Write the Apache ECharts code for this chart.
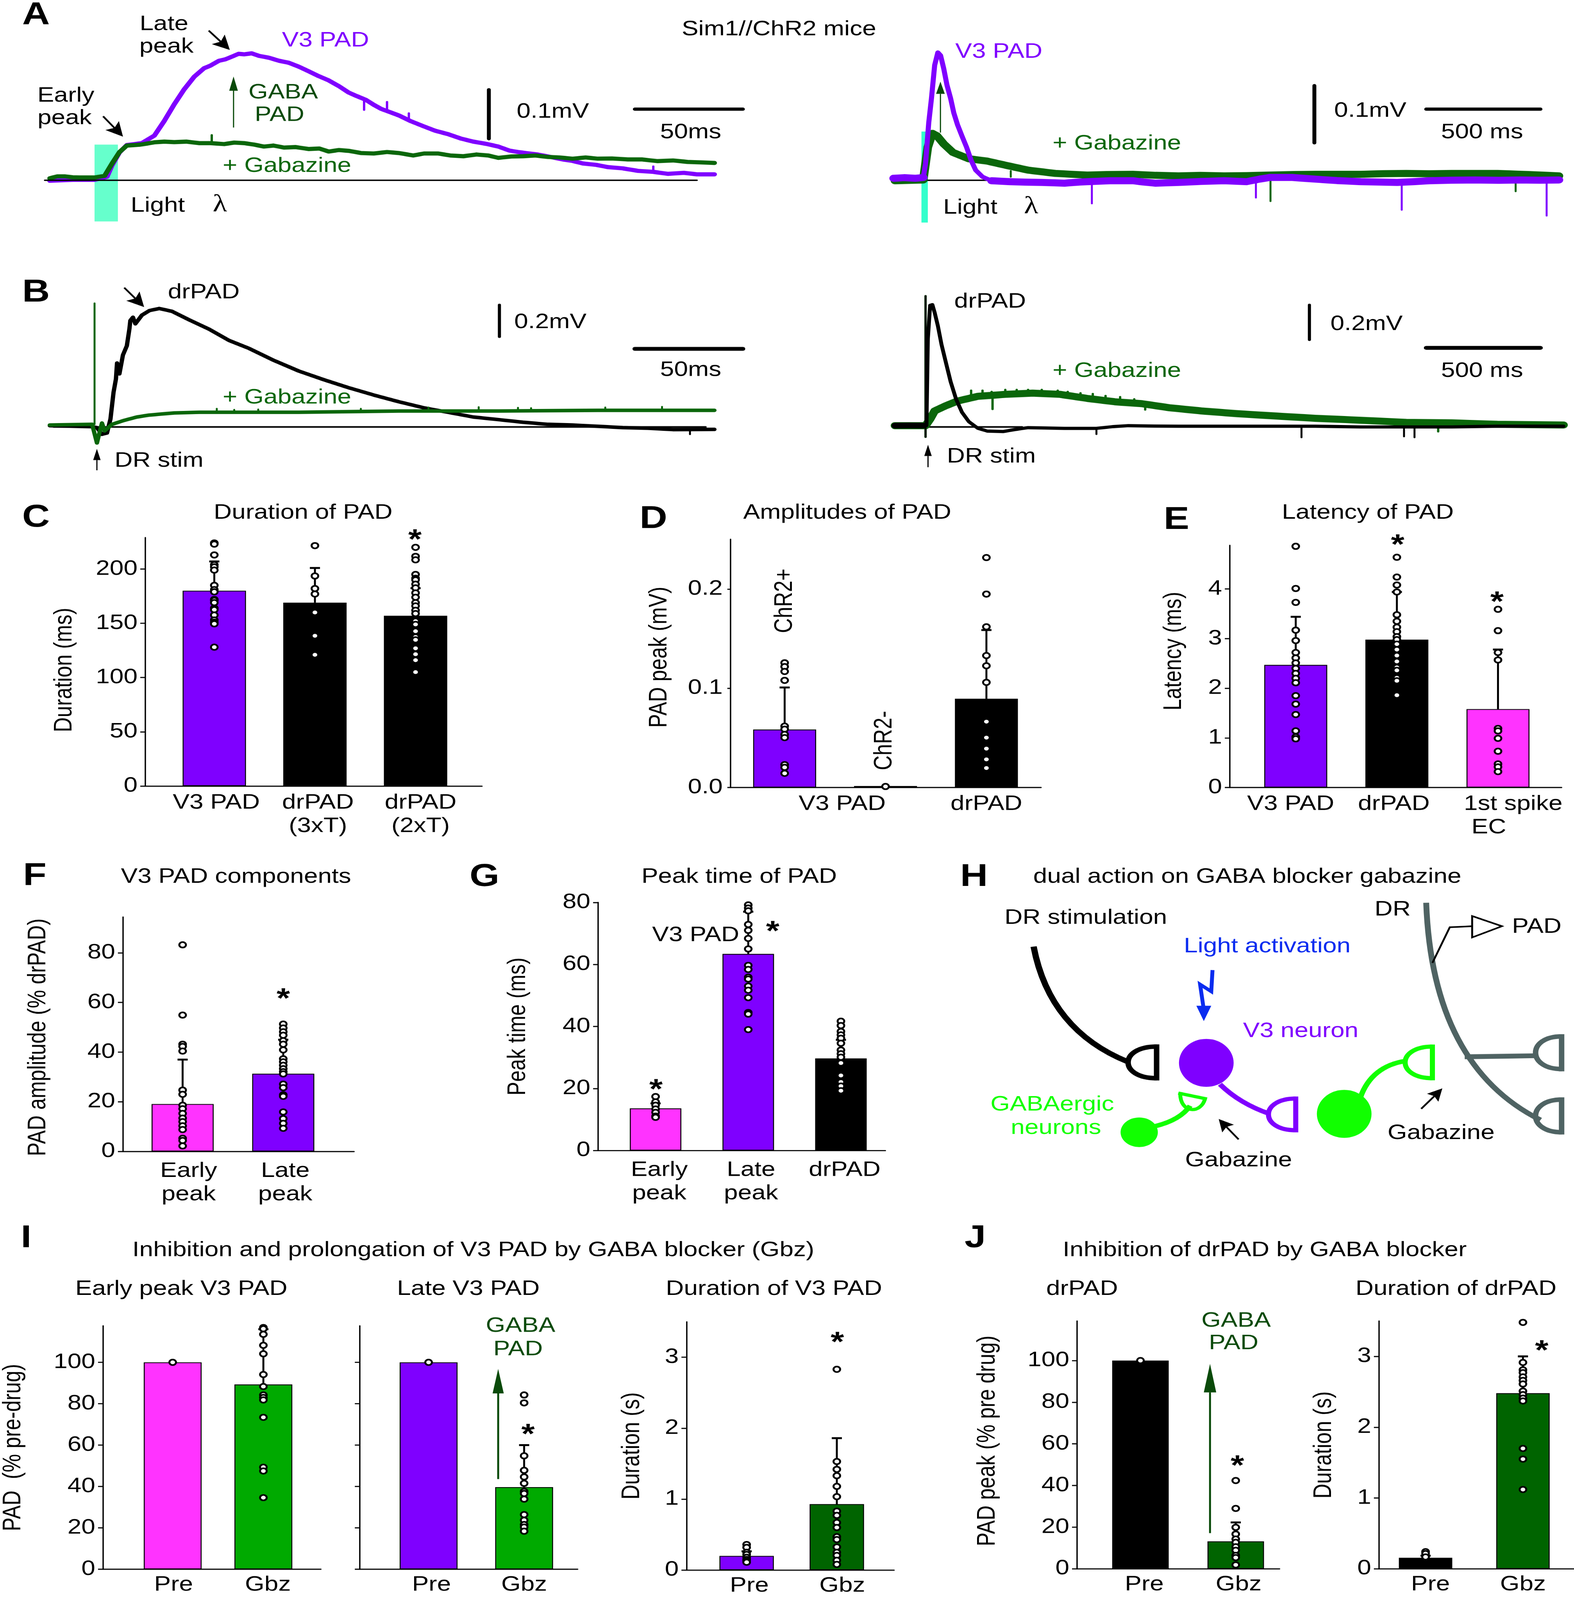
<!DOCTYPE html>
<html><head><meta charset="utf-8">
<style>html,body{margin:0;padding:0;background:#fff;overflow:hidden}#c{width:4029px;height:4988px;transform-origin:0 0}</style>
<script src="https://cdn.jsdelivr.net/npm/echarts@6/dist/echarts.min.js"></script>
</head><body><div id="c"></div>
<script>
// ---------- trace data: [time ms, potential uV] ----------
const aLeftV3=[[-20.5,-1],[-10,1],[0,1],[5.7,7],[8,30],[11.4,56],[14.8,71],[21.7,75],[27.4,90],[32,120],[36.5,153],[41,183],[45.7,209],[50.2,226],[53,231],[57,241],[60,244],[62.8,249],[66,255],[68.5,254],[72,256],[75.3,251],[80,247],[84.5,241],[89,237],[93.6,229],[98,220],[102.7,210],[107,202],[111.9,190],[116.4,177],[120,170],[124.4,162],[128,152],[131.3,144],[135,138],[139.3,131],[145,119],[150.7,109],[156,100],[162,93],[168,84],[173.5,78],[180,73],[185,68],[190,60],[194,57],[203,52],[209,47],[214.6,42],[219,39],[223.7,34],[230,31],[235,26.7],[242,24],[249,19],[256,17],[262.6,13],[270,15],[276,12],[284,12]];
const aLeftGbz=[[-20.5,4],[-17,8],[-13.7,8],[-10,6],[-6.8,5.6],[0,5.6],[4.6,9],[8,33.7],[11.4,56.8],[14.8,70],[20.5,71.6],[24,74],[27.4,76.6],[32,78],[36.5,77],[42,78],[48,74.9],[53.2,74.9],[59.4,73],[64,76],[68.5,74.9],[73,72],[77.6,68],[82,70],[86.8,66],[92,67],[98.2,63],[103,64],[107.3,58],[112,61],[116.4,59.4],[122,55],[127.9,54],[134,57],[139.3,55],[146,50],[151,54],[157.5,54],[163,50],[169,48.5],[175,52],[180.4,50],[185,45.2],[191,48],[196.3,48.5],[202,50],[207.8,47],[213,46],[219,43.6],[225,46],[230.6,43.6],[237,44],[244.3,42],[251,42],[258,38.6],[265,40],[271.7,37],[278,36],[284,35]];
const aLeftGbzSpikes=[[53.7,75,91]];
const aLeftV3Spikes=[[123.5,160,142],[134,140,158],[144,120,135],[256,17,28]];
const aLeftBase=[[-22.8,0],[276,0]];
const aLeftLight=[[0,10.7,-83,72]];

const aRightV3Peak=[[-136,3.4],[-70,4],[-6,4.8],[4,28.7],[18,99],[30,141],[44,198],[58,220],[70,215],[84,192],[98,164],[114,141],[128,116],[144,96],[164,76],[184,57],[204,34.4],[224,17.5],[254,6],[294,-0.8]];
const aRightV3Flat=[[-136,3.4],[-90,4.5],[-40,3.5],[-6,4.8]];
const aRightV3Tail=[[294,-0.8],[374,-2.3],[440,-3.2],[514,-3.7],[570,-4.4],[614,-5],[680,-3],[714,-2.3],[814,-0.8],[914,-0.8],[960,-3],[1014,-5],[1114,-3.7],[1210,-2],[1314,-0.8],[1414,-2.3],[1470,2],[1514,4.8],[1614,4.8],[1714,2],[1810,-0.5],[1914,-2.3],[2074,-3.7],[2140,-2.5],[2214,-0.8],[2310,0.2],[2414,0.6],[2520,0],[2614,0.6],[2700,0.2],[2784,0.6]];
const aRightGbz=[[-130,-0.8],[-6,0.6],[14,57],[34,80.8],[54,76.6],[84,62.5],[124,48],[194,37],[274,33],[354,26],[454,17.5],[574,11.8],[714,9],[800,10],[914,10.4],[1014,8.5],[1114,7.6],[1210,8.4],[1314,7.6],[1414,8],[1514,9],[1620,10],[1714,10.4],[1914,10.4],[2014,11.3],[2114,11.8],[2214,11.2],[2314,11.8],[2514,11.8],[2650,10],[2784,7.6]];
const aRightV3Spikes=[[734,-5,-40],[1454,-2,-30],[2094,-4,-51],[2730,0,-61]];
const aRightGbzSpikes=[[378,16,6],[1518,5,-36],[2594,5,-19]];
const aRightBase=[[0,0],[274,0]];
const aRightLight=[[-14,14,-72.7,84]];

const bLeftDr=[[-20.5,8],[-1.1,1.6],[1.1,-4],[3.4,-45],[5.7,-37],[7.3,49],[8.7,212],[9.8,294],[10.3,392],[11.4,326],[13,441],[14.8,498],[16,604],[16.4,653],[17.6,673],[18.7,633],[21.7,686],[25.1,714],[29.7,727],[35.4,710],[43.4,657],[52.5,600],[61.6,531],[70.8,482],[82.2,408],[93.6,343],[105,290],[116.4,241],[127.9,196],[139.3,155],[150.7,118],[162,90],[173.5,61],[185,45],[196.3,29],[207.8,16],[219,12],[230.6,4],[242,-4],[253.4,-8],[265,-16],[284,-15]];
const bLeftGbz=[[-20.5,12],[-1.1,16],[1.1,-98],[2.3,-33],[3.4,24],[4.6,-24],[8,16],[13.7,41],[19.4,61],[25.1,73],[36.5,86],[48,90],[70.8,90],[93.6,90],[116.4,94],[139.3,98],[162,98],[185,98],[207.8,100],[230.6,102],[253.4,102],[284,102]];
const bLeftDrSpikes=[[272.8,-15,-45]];
const bLeftGbzSpikes=[[0,16,759],[56,90,112],[64,90,106],[75,90,108],[122,94,112],[153,98,120],[176,98,122],[194,98,118],[200,100,116],[234,102,120],[260,102,124]];
const bLeftBase=[[-18.7,0],[280,0]];

const bRightDr=[[-138,7.5],[-14,7.5],[0,7.5],[6,498],[16,690],[26,694],[36,649],[50,574],[66,468],[86,362],[106,257],[130,158],[156,83],[186,30],[226,-8],[266,-23],[336,-26],[386,-15],[446,-4],[520,-6],[606,-8],[746,-8],[820,2],[886,7.5],[1000,5],[1106,4],[1306,4],[1506,4],[1706,4],[1906,0],[2106,0],[2306,0],[2506,4],[2796,4]];
const bRightDrBand=[[-138,7.5],[-80,8],[-14,7.5]];
const bRightGbz=[[-138,7.5],[-4,7.5],[16,45],[36,91],[86,121],[136,147],[226,174],[346,185],[466,192],[586,185],[706,162],[826,143],[946,132],[1066,109],[1206,91],[1366,75],[1506,64],[1706,49],[1906,38],[2106,26],[2306,23],[2506,15],[2796,11]];
const bRightDrSpikes=[[-4,-57,743],[746,-8,-41],[1646,0,-59],[2096,0,-54],[2142,0,-59]];
const bRightGbzSpikes=[[-4,-57,743],[196,170,207],[246,170,207],[286,180,200],[346,190,211],[396,190,211],[446,190,211],[506,190,211],[576,190,207],[620,180,200],[676,170,192],[730,160,188],[786,150,177],[850,140,170],[912,135,158],[290,170,101],[960,130,98],[2246,20,-26]];
const bRightBase=[[0,0],[420,0]];

// ---------- bar panels ----------
const cLabels=['V3 PAD','drPAD\n(3xT)','drPAD\n(2xT)'];
const cMeans=[180,169,157], cErr=[207,201,182.4];
const cPts=[[224,223,213,204,202,199,185,181,179,172,171,169,164,162.5,157.6,153,151,149.5,128],
 [221.6,193.6,182,177,160,138.5,121],
 [220,211.7,208.5,195,191.5,190,186,182.6,178,174,169,166,162,159,152,149,142.7,137.4,134.7,127,121.5,116,105]];
const dLabels=['V3 PAD','drPAD'];
const dMeans=[0.0584,0.0015,0.0895], dErr=[0.1008,0.0015,0.1587];
const dPts=[[.1257,.1218,.117,.108,.0618,.0588,.0535,.0503,.023,.0203,.0143],[.001],[.2318,.195,.162,.133,.1227,.106,.0664,.0503,.0392,.0284,.0196]];
const eLabels=['V3 PAD','drPAD','1st spike\nEC       '];
const eMeans=[2.47,2.98,1.58], eErr=[3.44,3.94,2.78];
const ePts=[[4.86,4.01,3.73,3.17,2.96,2.72,2.61,2.51,2.4,2.3,2.2,2.11,1.85,1.68,1.47,1.14,1.02,.98],
 [4.64,4.24,4.08,3.94,3.48,3.35,3.23,3.14,3.04,2.98,2.89,2.78,2.66,2.54,2.42,2.36,2.21,2.15,1.86],
 [3.59,3.16,2.72,2.57,1.19,1.14,.99,.73,.475,.415,.32]];
const fLabels=['Early\npeak','Late\npeak'];
const fMeans=[19.1,31.3], fErr=[37,45];
const fPts=[[83.2,54.9,43.2,42.3,40.4,24.7,23,18.6,17.2,15.3,13.4,12,10.3,8.8,5.3,4.4,2.2],
 [51.3,49.7,48.2,46.8,44.6,43.2,40.9,37.3,36.1,34.7,33.3,32.1,31.2,27.1,25.7,22.8,22.2,15.9,13.2,11.3,9.3]];
const gLabels=['Early\npeak','Late\npeak','drPAD'];
const gMeans=[13.6,63.4,29.7], gErr=[15.2,77,35.7];
const gPts=[[17.4,15.7,14.6,13.4,12.3,11.1,10.7],
 [79.2,78.2,77.3,72.9,71,68.4,65,59.7,58.4,55.9,55.3,53,51.7,49.3,44.5,44,39],
 [41.7,40.3,38.4,37.3,36.2,34.6,32.4,31.2,30.1,28.2,24.2,22.1,20.8,19.3]];
const preGbz=['Pre','Gbz'];
const iaMeans=[100,89.3], iaErr=[100,116];
const iaPts=[[100],[116.8,116.2,113.5,108.2,104.1,94.1,88.3,84.2,83,81.8,73.4,49.3,47.5,34.6]];
const ibMeans=[100,39.7], ibErr=[100,60];
const ibPts=[[100],[84.2,80.4,54.8,47.8,44.6,41.5,37.6,36.6,33.9,26.4,23.7,21.6,20.4,18.4]];
const icMeans=[.2,.93], icErr=[.265,1.86];
const icPts=[[.36,.32,.25,.22,.18,.15,.127,.11],[2.83,1.53,1.42,1.33,1.18,1.035,.83,.77,.67,.6,.47,.43,.325,.25,.206,.137,.08]];
const jaMeans=[100,13.2], jaErr=[100,22.3];
const jaPts=[[100],[42.4,29,19.9,16.7,14.3,12.7,10.6,8.9,6.5,5.4,1.9]];
const jbMeans=[.157,2.48], jbErr=[.185,3.0];
const jbPts=[[.243,.216,.168],[3.48,2.914,2.81,2.77,2.71,2.66,2.61,2.51,2.46,2.41,2.37,1.7,1.55,1.12]];
const t50=[0,50,100,150,200], t20=[0,20,40,60,80], t20h=[0,20,40,60,80,100], t3=[0,1,2,3];

// ---------- layout ----------
const S=3.18, FONT='"Liberation Sans",Arial,sans-serif', FS=64;
const PURPLE='#7F00FF',MAG='#FF33FF',GRN='#00AA00',DGRN='#006400',TGRN='#0A660A',GABA='#0A4A0A',LIME='#11FF00',BLUE='#0A2CF0',GREY='#4F6363';
const grids=[],xAxes=[],yAxes=[],series=[],g=[];
function addAxes(grid,x,y){grids.push(grid);xAxes.push(Object.assign({gridIndex:grids.length-1},x));yAxes.push(Object.assign({gridIndex:grids.length-1},y));return grids.length-1;}

const errRender=(p,api)=>{const a=api.coord([api.value(0),api.value(1)]),b=api.coord([api.value(0),api.value(2)]);
 if(api.value(1)===api.value(2))return null;
 return {type:'group',children:[{type:'line',shape:{x1:a[0],y1:a[1],x2:b[0],y2:b[1]},style:{stroke:'#000',lineWidth:5}},
 {type:'line',shape:{x1:b[0]-13,y1:b[1],x2:b[0]+13,y2:b[1]},style:{stroke:'#000',lineWidth:6}}]};};

function barPanel(o){
 const sp=o.c1-o.c0, l=o.axisX, r=o.end;
 const i=addAxes({left:l*S,width:(r-l)*S,top:o.top*S,height:(o.y0-o.top)*S,containLabel:false},
  {type:'value',min:(l-o.c0)/sp,max:(r-o.c0)/sp,splitLine:{show:false},axisTick:{show:false},
   axisLine:{onZero:false,lineStyle:{color:'#000',width:3.5}},
   axisLabel:{customValues:o.labelAt,color:'#000',fontFamily:FONT,fontSize:FS,lineHeight:73,margin:(o.lm||5)*S,hideOverlap:false,showMinLabel:true,showMaxLabel:true,
     formatter:v=>{const k=o.labelAt.findIndex(a=>Math.abs(a-v)<1e-6);return k>=0?o.labels[k]:'';}}},
  {type:'value',min:0,max:o.max,splitLine:{show:false},
   axisLine:{onZero:false,lineStyle:{color:'#000',width:3.5}},
   axisTick:{customValues:o.ticks,length:o.tl||13,lineStyle:{color:'#000',width:3.5}},
   axisLabel:{customValues:o.ticks,show:o.noLabels?false:true,color:'#000',fontFamily:FONT,fontSize:FS,margin:o.ym||20,formatter:o.fmt||(v=>String(v))},
   name:o.name||'',nameLocation:'middle',nameGap:(o.nameGap||60)*S,nameRotate:90,nameMoveOverlap:false,
   nameTextStyle:{color:'#000',fontFamily:FONT,fontSize:FS,padding:(o.nameDy||0)>0?[0,0,0,o.nameDy*2*S]:[0,-(o.nameDy||0)*2*S,0,0]}});
 series.push({type:'bar',xAxisIndex:i,yAxisIndex:i,barWidth:o.bw*S,z:2,
  data:o.means.map((v,k)=>({value:[k,v],itemStyle:{color:o.colors[k],borderColor:'#000',borderWidth:2.5}}))});
 series.push({type:'custom',xAxisIndex:i,yAxisIndex:i,z:3,renderItem:errRender,encode:{x:0,y:[1,2]},clip:false,
  data:o.means.map((v,k)=>[k,v,o.err[k]])});
 const pts=[];o.pts.forEach((a,k)=>a.forEach(v=>pts.push([k,v])));
 series.push({type:'scatter',xAxisIndex:i,yAxisIndex:i,z:4,symbolSize:17,clip:false,data:pts,
  itemStyle:{color:'#fff',borderColor:'#000',borderWidth:5,opacity:1}});
}
barPanel({axisX:117,end:388,c0:172.5,c1:253.5,top:527,y0:770.6,max:229,ticks:t50,bw:51,labels:cLabels,labelAt:[.02,1.03,2.05],means:cMeans,err:cErr,pts:cPts,colors:[PURPLE,'#000','#000'],name:'Duration (ms)',nameGap:55,nameDy:-8});
barPanel({axisX:588,end:838,c0:631.6,c1:712.8,top:528.6,y0:772,max:.2503,ticks:[0,.1,.2],fmt:v=>v.toFixed(1),bw:50.7,labels:dLabels,labelAt:[.57,2],means:dMeans,err:dErr,pts:dPts,colors:[PURPLE,PURPLE,'#000'],name:'PAD peak (mV)',nameGap:47,nameDy:6,tl:8});
barPanel({axisX:990,end:1257,c0:1043,c1:1124.4,top:534.6,y0:772,max:4.88,ticks:[0,1,2,3,4],bw:50.7,labels:eLabels,labelAt:[-.05,.97,2.15],means:eMeans,err:eErr,pts:ePts,colors:[PURPLE,'#000',MAG],name:'Latency (ms)',nameGap:35,nameDy:15});
barPanel({axisX:99,end:285,c0:147,c1:228,top:899,y0:1128.8,max:94.4,ticks:t20,bw:50,labels:fLabels,labelAt:[.06,1.02],means:fMeans,err:fErr,pts:fPts,colors:[MAG,PURPLE],name:'PAD amplitude (% drPAD)',nameGap:58,nameDy:-3,lm:8});
barPanel({axisX:481.5,end:712.7,c0:527.7,c1:602.3,top:884.7,y0:1127.9,max:80,ticks:t20,bw:41.5,labels:gLabels,labelAt:[.04,1.03,2.04],means:gMeans,err:gErr,pts:gPts,colors:[MAG,PURPLE,'#000'],name:'Peak time (ms)',nameGap:54.5,lm:8});
barPanel({axisX:83,end:258.3,c0:139,c1:212,top:1299.8,y0:1538.4,max:117.6,ticks:t20h,bw:46.6,labels:preGbz,labelAt:[.01,1.05],means:iaMeans,err:iaErr,pts:iaPts,colors:[MAG,GRN],name:'PAD  (% pre-drug)',nameGap:62,lm:4});
barPanel({axisX:289.7,end:465,c0:345,c1:421.9,top:1299.8,y0:1538.4,max:117.6,ticks:t20h,noLabels:true,bw:46.6,labels:preGbz,labelAt:[.03,1],means:ibMeans,err:ibErr,pts:ibPts,colors:[PURPLE,GRN],lm:4});
barPanel({axisX:552.6,end:719.7,c0:601,c1:673.6,top:1295.8,y0:1539.2,max:3.5,ticks:t3,bw:43.8,labels:preGbz,labelAt:[.03,1.06],means:icMeans,err:icErr,pts:icPts,colors:[PURPLE,DGRN],name:'Duration (s)',nameGap:33.6,lm:4});
barPanel({axisX:867,end:1030,c0:918,c1:994.7,top:1295,y0:1538,max:119,ticks:t20h,bw:45.5,labels:preGbz,labelAt:[.04,1.03],means:jaMeans,err:jaErr,pts:jaPts,colors:['#000',DGRN],name:'PAD peak (% pre drug)',nameGap:62,nameDy:4,lm:4});
barPanel({axisX:1110,end:1267,c0:1147.5,c1:1225.9,top:1295,y0:1538,max:3.5,ticks:t3,bw:43,labels:preGbz,labelAt:[.05,1],means:jbMeans,err:jbErr,pts:jbPts,colors:['#000',DGRN],name:'Duration (s)',nameGap:34,lm:4});

// trace panels
function tracePanel(o){
 const i=addAxes({left:o.x0+o.tmin*o.kx,width:(o.tmax-o.tmin)*o.kx,top:o.y0-o.vmax*o.ky,height:(o.vmax-o.vmin)*o.ky},
  {type:'value',show:false,min:o.tmin,max:o.tmax},{type:'value',show:false,min:o.vmin,max:o.vmax});
 (o.light||[]).length&&series.push({type:'custom',xAxisIndex:i,yAxisIndex:i,z:1,encode:{x:[0,1],y:[2,3]},clip:false,data:o.light,
  renderItem:(p,api)=>{const a=api.coord([api.value(0),api.value(3)]),b=api.coord([api.value(1),api.value(2)]);
   return {type:'rect',shape:{x:a[0],y:a[1],width:b[0]-a[0],height:b[1]-a[1]},style:{fill:o.lightColor}};}});
 const spike=(data,color,w,z)=>series.push({type:'custom',xAxisIndex:i,yAxisIndex:i,z,encode:{x:0,y:[1,2]},clip:false,data,
  renderItem:(p,api)=>{const a=api.coord([api.value(0),api.value(1)]),b=api.coord([api.value(0),api.value(2)]);
   return {type:'line',shape:{x1:a[0],y1:a[1],x2:b[0],y2:b[1]},style:{stroke:color,lineWidth:w,lineCap:'round'}};}});
 const line=(data,color,w,z)=>series.push({type:'line',xAxisIndex:i,yAxisIndex:i,z,data,showSymbol:false,symbol:'none',clip:false,silent:true,
  lineStyle:{color,width:w,join:'round',cap:'round'}});
 o.lines.forEach(l=>{ if(l.spikes)spike(l.spikes,l.color,l.sw||5,l.z||3); line(l.data,l.color,l.w,l.z||3); });
}
tracePanel({x0:242,kx:5.587,y0:562,ky:1.546,tmin:-25,tmax:290,vmin:-90,vmax:280,light:aLeftLight,lightColor:'#66FFCC',lines:[
 {data:aLeftBase,color:'#000',w:4.5,z:5},{data:aLeftV3,color:PURPLE,w:13,spikes:aLeftV3Spikes,sw:6,z:3},{data:aLeftGbz,color:TGRN,w:13,spikes:aLeftGbzSpikes,sw:6,z:4}]});
tracePanel({x0:2366.8,kx:.5832,y0:562,ky:1.811,tmin:-150,tmax:2800,vmin:-80,vmax:230,light:aRightLight,lightColor:'#33FFCC',lines:[
 {data:aRightBase,color:'#000',w:4.5,z:2},{data:aRightGbz,color:TGRN,w:22,spikes:aRightGbzSpikes,sw:5,z:3},{data:aRightV3Peak,color:PURPLE,w:13,spikes:aRightV3Spikes,sw:5,z:4},{data:aRightV3Flat,color:PURPLE,w:22,z:4},{data:aRightV3Tail,color:PURPLE,w:22,z:4}]});
tracePanel({x0:242,kx:5.587,y0:1331,ky:.508,tmin:-25,tmax:290,vmin:-110,vmax:780,lines:[
 {data:bLeftBase,color:'#000',w:5,z:2},{data:bLeftDr,color:'#000',w:11,spikes:bLeftDrSpikes,sw:5,z:3},{data:bLeftGbz,color:TGRN,w:11,spikes:bLeftGbzSpikes,sw:5,z:4}]});
tracePanel({x0:2371.5,kx:.5832,y0:1331,ky:.5493,tmin:-150,tmax:2800,vmin:-70,vmax:760,lines:[
 {data:bRightBase,color:'#000',w:5,z:2},{data:bRightGbz,color:TGRN,w:22,spikes:bRightGbzSpikes,sw:6,z:3},{data:bRightDr,color:'#000',w:10,spikes:bRightDrSpikes,sw:5,z:4},{data:bRightDrBand,color:'#000',w:18,z:4}]});

// ---------- texts and annotation drawings (display px * S) ----------
function T(text,x,y,o={}){const fs=o.fs||FS;
 g.push({type:'text',x:x*S,y:y*S,rotation:o.rot||0,z:20,style:{text,fill:o.color||'#000',font:`${o.w||'normal'} ${fs}px ${o.font||FONT}`,
 align:o.align||'center',verticalAlign:'middle',textAlign:o.align||'center',textVerticalAlign:'middle',lineHeight:o.lh||72}});}
function Ln(pts,color,w,cap){g.push({type:'polyline',z:19,shape:{points:pts.map(p=>[p[0]*S,p[1]*S])},style:{stroke:color,lineWidth:w,fill:null,lineCap:cap||'butt',lineJoin:'miter'}});}
function Poly(pts,fill,stroke,w){g.push({type:'polygon',z:19,shape:{points:pts.map(p=>[p[0]*S,p[1]*S])},style:{fill:fill||null,stroke:stroke||null,lineWidth:w||0}});}
function Q(x1,y1,cx,cy,x2,y2,color,w){g.push({type:'bezierCurve',z:18,shape:{x1:x1*S,y1:y1*S,cpx1:cx*S,cpy1:cy*S,x2:x2*S,y2:y2*S},style:{stroke:color,lineWidth:w,fill:null}});}
function C(x1,y1,ax,ay,bx,by,x2,y2,color,w){g.push({type:'bezierCurve',z:18,shape:{x1:x1*S,y1:y1*S,cpx1:ax*S,cpy1:ay*S,cpx2:bx*S,cpy2:by*S,x2:x2*S,y2:y2*S},style:{stroke:color,lineWidth:w,fill:null}});}
function Arrow(x1,y1,x2,y2,w,hl,hw,color,notch){const dx=x2-x1,dy=y2-y1,L=Math.hypot(dx,dy),ux=dx/L,uy=dy/L,nx=-uy,ny=ux;
 const bx=x2-ux*hl,by=y2-uy*hl,n=notch||0;
 Ln([[x1,y1],[bx+ux*n,by+uy*n]],color,w);
 Poly([[x2,y2],[bx+nx*hw/2,by+ny*hw/2],[bx+ux*n,by+uy*n],[bx-nx*hw/2,by-ny*hw/2]],color);}
function Star(x,y){T('*',x,y+7,{fs:88,w:'bold'});}

// panel letters
[['A',29,15],['B',29,287],['C',29,508],['D',526,509],['E',947,510],['F',28,859],['G',390,860],['H',784,860],['I',21,1214],['J',785,1214]].forEach(a=>T(a[0],a[1],a[2],{fs:98,w:'bold'}));
// panel A
T('Late',132,24);T('peak',134,46);T('Early',53,94);T('peak',52,116);
T('V3 PAD',262,40,{color:PURPLE});T('Sim1//ChR2 mice',627,29);
T('GABA',228,91,{color:GABA});T('PAD',225,113,{color:GABA});
T('0.1mV',445,110);T('50ms',556,130);T('+ Gabazine',231,163,{color:TGRN});T('Light',127,202);T('λ',177,201,{fs:76,font:'"Liberation Serif",serif'});
Arrow(188,125,188,75,3,14,7,GABA);
Arrow(168,30,185,49,5,14,14,'#000',3);Arrow(83,114,99,134,5,14,14,'#000',3);
Ln([[393.5,88],[393.5,136]],'#000',10,'round');Ln([[511,107],[598,107]],'#000',10,'round');
// panel A right
T('V3 PAD',804,51,{color:PURPLE});T('0.1mV',1103,109);T('500 ms',1193,130);T('+ Gabazine',899,141,{color:TGRN});T('Light',781,204);T('λ',830,203,{fs:76,font:'"Liberation Serif",serif'});
Arrow(757,130,757,80,3,12,7,GABA);
Ln([[1058,84],[1058,140]],'#000',10,'round');Ln([[1148,107],[1240,107]],'#000',10,'round');
// panel B
T('drPAD',164,287);T('0.2mV',443,316);T('50ms',556,363);T('+ Gabazine',231,390,{color:TGRN});T('DR stim',128,452);
Arrow(78,461,78,440,3,11,6,'#000');Arrow(100,282,116,301,5,14,14,'#000',3);
Ln([[402,299],[402,330]],'#000',8,'round');Ln([[511,342],[598,342]],'#000',12,'round');
T('drPAD',797,296);T('0.2mV',1100,318);T('500 ms',1193,364);T('+ Gabazine',899,364,{color:TGRN});T('DR stim',798,448);
Arrow(747,458,747,436,3,11,6,'#000');
Ln([[1054,299],[1054,333]],'#000',8,'round');Ln([[1148,341],[1240,341]],'#000',12,'round');
// bar titles
T('Duration of PAD',244,503);T('Amplitudes of PAD',682,503);T('Latency of PAD',1101,503);
T('V3 PAD components',190,860);T('Peak time of PAD',595,860);T('dual action on GABA blocker gabazine',1004,860);
T('Inhibition and prolongation of V3 PAD by GABA blocker (Gbz)',381,1226);T('Inhibition of drPAD by GABA blocker',1018,1226);
T('Early peak V3 PAD',146,1264);T('Late V3 PAD',377,1264);T('Duration of V3 PAD',623,1264);T('drPAD',871,1264);T('Duration of drPAD',1172,1264);
T('ChR2+',632,589,{rot:Math.PI/2});T('ChR2-',712,726,{rot:Math.PI/2});T('V3 PAD',560,917);
T('GABA',419,1300,{color:GABA});T('PAD',417,1323,{color:GABA});T('GABA',995,1295,{color:GABA});T('PAD',993,1317,{color:GABA});
Arrow(401,1450,401,1342,5,24,9,GABA);Arrow(974,1503,974,1337,5,28,10,GABA);
[[334,523],[1125,528],[1205,584],[228,973],[528,1062],[622,907],[425,1400],[674,1310],[996,1431],[1241,1318]].forEach(p=>Star(p[0],p[1]));
// panel H
T('DR stimulation',874,900);T('Light activation',1020,928,{color:BLUE});T('V3 neuron',1047,1011,{color:PURPLE});
T('GABAergic',847,1083,{color:LIME});T('neurons',850,1106,{color:LIME});T('Gabazine',997,1138);T('Gabazine',1160,1111);T('DR',1121,892);T('PAD',1237,909);
function Term(xr,y0,y1,w,color,lw){const c=xr-w*1.33;Ln([[xr,y0],[xr,y1]],color,lw,'square');C(xr,y1,c,y1,c,y0,xr,y0,color,lw);}
Q(832,928,845,1010,908,1041,'#000',16);Term(931,1026,1057,23,'#000',14);
Q(982,1063,998,1082,1022,1092,PURPLE,14);Term(1043,1077,1108,22,PURPLE,13);
g.push({type:'ellipse',z:18,shape:{cx:971*S,cy:1042*S,rx:22*S,ry:23.5*S},style:{fill:PURPLE}});
Q(1095,1076,1104,1045,1132,1040,LIME,14);Term(1153,1026,1057,22,LIME,13);
g.push({type:'ellipse',z:18,shape:{cx:1082*S,cy:1092*S,rx:22*S,ry:23.5*S},style:{fill:LIME}});
Q(930,1104,950,1098,958,1084,LIME,14);
Ln([[950,1072],[970,1077]],LIME,10,'square');C(970,1077,967,1092,950,1092,950,1072,LIME,10);
g.push({type:'ellipse',z:18,shape:{cx:917*S,cy:1110*S,rx:15*S,ry:14.5*S},style:{fill:LIME}});
Q(1148,885,1153,1045,1240,1098,GREY,15);Ln([[1179,1036],[1236,1035]],GREY,15);
Term(1257,1016,1048,21,GREY,14);Term(1257,1078,1110,21,GREY,14);
Ln([[1153,944],[1167,909],[1185,908]],'#000',5);Poly([[1185,898],[1185,919],[1209,908]],'#fff','#000',5);
Ln([[976,951],[975,972],[966,965],[969,990]],BLUE,10);Poly([[963,986],[975,986],[969,1001]],BLUE);
Arrow(997,1117,981,1097,5,12,12,'#000',2);Arrow(1144,1087,1161,1067,5,12,12,'#000',2);

// the window may be shorter than the figure: fit the whole figure into it
const fitY=Math.min(1,window.innerHeight/4988);
document.getElementById('c').style.transform='scaleY('+fitY+')';
const chart=echarts.init(document.getElementById('c'),null,{renderer:'canvas',width:4029,height:4988});
chart.setOption({animation:false,backgroundColor:'#fff',grid:grids,xAxis:xAxes,yAxis:yAxes,series,graphic:{elements:g}});
</script></body></html>
